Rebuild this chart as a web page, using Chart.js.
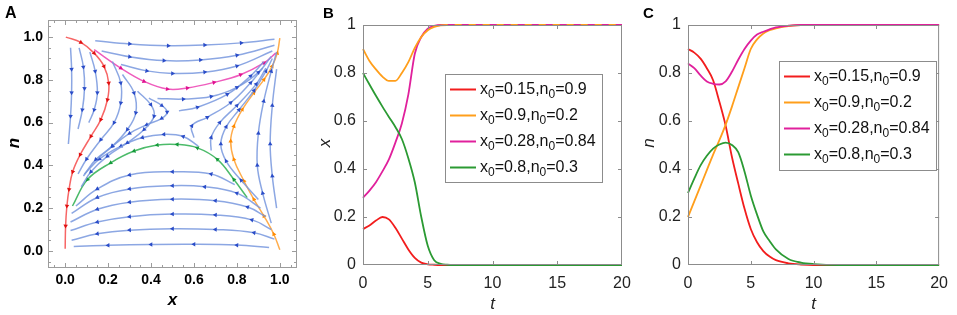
<!DOCTYPE html>
<html>
<head>
<meta charset="utf-8">
<script src="https://cdn.jsdelivr.net/npm/chart.js@4.4.1/dist/chart.umd.min.js"></script>
<style>
  body { margin: 0; background: #fff; width: 957px; height: 315px; position: relative; overflow: hidden; }
  canvas { position: absolute; top: 0; }
</style>
</head>
<body>
<canvas id="chartA" width="320" height="315" style="left:0"></canvas>
<canvas id="chartB" width="320" height="315" style="left:320px"></canvas>
<canvas id="chartC" width="317" height="315" style="left:640px"></canvas>
<script>
// ---- panel A: phase plane (x, n), streamlines ----
const phaseTicks = [0, 0.2, 0.4, 0.6, 0.8, 1.0];

// blue stream lines, listed in flow direction
const topLines = [
  [[0.14,0.983],[0.3,0.968],[0.48,0.96],[0.65,0.963],[0.82,0.973],[0.975,0.99]],
  [[0.17,0.935],[0.3,0.908],[0.46,0.89],[0.63,0.893],[0.8,0.915],[0.975,0.962]],
  [[0.26,0.872],[0.38,0.842],[0.5,0.83],[0.65,0.836],[0.8,0.865],[0.965,0.935]],
  [[0.43,0.713],[0.55,0.71],[0.68,0.722],[0.8,0.765],[0.9,0.835],[0.96,0.91]]
];
const saddleRightLines = [
  [[0.53,0.655],[0.616,0.672],[0.755,0.732],[0.864,0.818],[0.925,0.885]],
  [[0.6,0.53],[0.59,0.585],[0.662,0.625],[0.771,0.693],[0.864,0.786],[0.92,0.855]],
  [[0.68,0.47],[0.68,0.53],[0.72,0.6],[0.8,0.68],[0.89,0.78],[0.935,0.855]],
  [[0.9,0.24],[0.82,0.33],[0.75,0.42],[0.725,0.5],[0.75,0.58],[0.81,0.66],[0.88,0.75],[0.935,0.84],[0.965,0.9]],
  [[0.96,0.13],[0.92,0.27],[0.895,0.4],[0.9,0.55],[0.925,0.7],[0.96,0.84],[0.985,0.93]],
  [[0.985,0.2],[0.965,0.35],[0.955,0.5],[0.965,0.68],[0.985,0.85]]
];
const leftLines = [
  [[0.025,0.95],[0.03,0.85],[0.03,0.74],[0.025,0.63],[0.015,0.5]],
  [[0.065,0.95],[0.085,0.86],[0.09,0.76],[0.08,0.66],[0.06,0.57]],
  [[0.115,0.93],[0.14,0.84],[0.15,0.74],[0.135,0.66],[0.11,0.6]],
  [[0.22,0.886],[0.259,0.786],[0.259,0.692],[0.228,0.6],[0.166,0.52],[0.1,0.43],[0.06,0.36]],
  [[0.267,0.825],[0.321,0.739],[0.329,0.646],[0.29,0.568],[0.22,0.49],[0.143,0.428],[0.085,0.35]],
  [[0.337,0.747],[0.399,0.684],[0.414,0.63],[0.368,0.568],[0.29,0.506],[0.197,0.443],[0.12,0.37],[0.075,0.3]],
  [[0.39,0.715],[0.45,0.68],[0.475,0.65],[0.45,0.62],[0.38,0.59],[0.3,0.55],[0.22,0.49],[0.15,0.43]]
];
const bottomLines = [
  [[0.62,0.49],[0.55,0.535],[0.46,0.545],[0.36,0.53],[0.26,0.49],[0.16,0.43],[0.09,0.36]],
  [[0.79,0.31],[0.68,0.36],[0.5,0.37],[0.3,0.355],[0.15,0.29],[0.05,0.21]],
  [[0.91,0.2],[0.8,0.27],[0.65,0.3],[0.5,0.305],[0.3,0.29],[0.15,0.25],[0.03,0.175]],
  [[0.935,0.16],[0.85,0.205],[0.7,0.235],[0.5,0.242],[0.3,0.228],[0.15,0.195],[0.025,0.135]],
  [[0.96,0.1],[0.87,0.145],[0.7,0.168],[0.5,0.172],[0.3,0.16],[0.15,0.135],[0.025,0.095]],
  [[0.975,0.055],[0.88,0.085],[0.7,0.1],[0.5,0.104],[0.3,0.097],[0.15,0.08],[0.03,0.05]],
  [[0.95,0.016],[0.8,0.027],[0.6,0.031],[0.4,0.03],[0.2,0.026],[0.04,0.02]]
];

// highlighted trajectories
const redPath = [[0.003,1.0],[0.073,0.975],[0.135,0.925],[0.181,0.863],[0.203,0.785],[0.197,0.707],[0.166,0.614],[0.12,0.536],[0.07,0.45],[0.035,0.37],[0.018,0.288],[0.008,0.21],[0.002,0.117],[0,0.01]];
const magentaPath = [[0.135,0.941],[0.259,0.855],[0.367,0.793],[0.476,0.757],[0.569,0.762],[0.693,0.788],[0.817,0.824],[0.926,0.879],[0.98,0.925]];
const orangePath = [[1.0,0.005],[0.972,0.078],[0.926,0.163],[0.879,0.241],[0.833,0.327],[0.786,0.428],[0.771,0.513],[0.786,0.583],[0.825,0.661],[0.879,0.739],[0.926,0.801],[0.964,0.863],[0.988,0.925],[1.0,0.995]];
const greenPath = [[0.848,0.249],[0.786,0.334],[0.709,0.428],[0.616,0.482],[0.522,0.498],[0.429,0.495],[0.321,0.467],[0.212,0.412],[0.104,0.334],[0.034,0.21]];

// ---- panels B and C: time courses ----
const times = [0,0.5,1,1.5,2,2.5,3,3.5,4,4.5,5,5.5,6,6.5,7,8,9,10,12,14,16,18,20];

const xRed     = [0.15,0.165,0.185,0.2,0.19,0.155,0.11,0.065,0.03,0.01,0.003,0.001,0,0,0,0,0,0,0,0,0,0,0];
const xOrange  = [0.9,0.85,0.815,0.785,0.767,0.767,0.8,0.845,0.905,0.95,0.978,0.992,0.998,1,1,1,1,1,1,1,1,1,1];
const xMagenta = [0.28,0.31,0.345,0.39,0.44,0.51,0.59,0.71,0.88,0.95,0.985,0.996,1,1,1,1,1,1,1,1,1,1,1];
const xGreen   = [0.8,0.752,0.705,0.66,0.617,0.575,0.525,0.445,0.345,0.2,0.08,0.02,0.005,0.001,0,0,0,0,0,0,0,0,0];

const nRed     = [0.9,0.885,0.86,0.82,0.77,0.68,0.58,0.45,0.34,0.235,0.15,0.095,0.058,0.035,0.02,0.007,0.002,0,0,0,0,0,0];
const nOrange  = [0.2,0.265,0.33,0.395,0.46,0.52,0.585,0.66,0.74,0.82,0.9,0.94,0.965,0.978,0.986,0.995,1,1,1,1,1,1,1];
const nMagenta = [0.84,0.82,0.79,0.765,0.755,0.752,0.765,0.805,0.855,0.9,0.935,0.96,0.972,0.982,0.99,0.997,1,1,1,1,1,1,1];
const nGreen   = [0.3,0.36,0.415,0.455,0.485,0.502,0.51,0.5,0.47,0.39,0.29,0.21,0.14,0.1,0.065,0.025,0.01,0.004,0,0,0,0,0];

const x0Values = ['0.15', '0.9', '0.28', '0.8'];
const n0Values = ['0.9', '0.2', '0.84', '0.3'];
const seriesColors = ['#f21d1d', '#ff9e1b', '#e0209c', '#2b9a33'];

Chart.defaults.font.family = '"Liberation Sans", Arial, sans-serif';

// ---------- panel A ----------
function arrowAngle(ctx) {
  const d = ctx.dataset.data, i = ctx.dataIndex, ch = ctx.chart;
  const a = d[Math.max(i - 1, 0)], b = d[Math.min(i + 1, d.length - 1)];
  const dx = ch.scales.x.getPixelForValue(b.x) - ch.scales.x.getPixelForValue(a.x);
  const dy = ch.scales.y.getPixelForValue(b.y) - ch.scales.y.getPixelForValue(a.y);
  return Math.atan2(dx, -dy) * 180 / Math.PI;
}

function streamSet(line, lineColor, headColor) {
  return {
    data: line.map(p => ({ x: p[0], y: p[1] })),
    showLine: true,
    borderColor: lineColor,
    borderWidth: 1.5,
    tension: 0.4,
    pointStyle: 'triangle',
    pointBackgroundColor: headColor,
    pointBorderColor: headColor,
    pointBorderWidth: 0,
    pointRadius: ctx => (ctx.dataIndex === 0 || ctx.dataIndex === ctx.dataset.data.length - 1) ? 0 : 2.6,
    pointRotation: arrowAngle
  };
}

const blue = 'rgba(120,152,222,0.85)', blueHead = '#2a4cc8';
const phaseSets = [];
[topLines, saddleRightLines, leftLines, bottomLines].forEach(group =>
  group.forEach(l => phaseSets.push(streamSet(l, blue, blueHead))));
phaseSets.push(streamSet(redPath, '#f76666', '#e01010'));
phaseSets.push(streamSet(magentaPath, '#ef5cbd', '#e0108f'));
phaseSets.push(streamSet(orangePath, '#ffad4d', '#ff8a00'));
phaseSets.push(streamSet(greenPath, '#4cbb6a', '#149a3a'));

const frameA = {
  id: 'frameA',
  afterDraw(chart) {
    const c = chart.ctx, a = chart.chartArea, sx = chart.scales.x, sy = chart.scales.y;
    c.save();
    c.strokeStyle = '#9c9c9c';
    c.lineWidth = 1;
    c.strokeRect(a.left + 0.5, a.top + 0.5, a.right - a.left - 1, a.bottom - a.top - 1);
    c.beginPath();
    for (let k = -1; k <= 21; k++) {
      const v = k * 0.05, L = k % 4 === 0 ? 5 : 3;
      const px = Math.round(sx.getPixelForValue(v)) + 0.5;
      const py = Math.round(sy.getPixelForValue(v)) + 0.5;
      c.moveTo(px, a.bottom); c.lineTo(px, a.bottom - L);
      c.moveTo(px, a.top); c.lineTo(px, a.top + L);
      c.moveTo(a.left, py); c.lineTo(a.left + L, py);
      c.moveTo(a.right, py); c.lineTo(a.right - L, py);
    }
    c.stroke();
    c.fillStyle = '#000';
    c.font = 'bold 16px "Liberation Sans"';
    c.textAlign = 'left'; c.textBaseline = 'top';
    c.fillText('A', 5, 6);
    c.font = 'italic bold 17px "Liberation Sans"';
    c.textAlign = 'center'; c.textBaseline = 'middle';
    c.fillText('x', (a.left + a.right) / 2, 300);
    c.translate(14, 143);
    c.rotate(-Math.PI / 2);
    c.fillText('n', 0, 0);
    c.restore();
  }
};

new Chart(document.getElementById('chartA'), {
  type: 'scatter',
  data: { datasets: phaseSets },
  options: {
    responsive: false,
    animation: false,
    layout: { padding: { left: 0, right: 23, top: 20, bottom: 0 } },
    plugins: { legend: { display: false }, tooltip: { enabled: false } },
    scales: {
      x: {
        type: 'linear', min: -0.08, max: 1.08,
        afterBuildTicks: s => { s.ticks = phaseTicks.map(v => ({ value: v })); },
        afterFit: s => { s.height = 47; },
        grid: { display: false, drawTicks: false },
        border: { display: false },
        ticks: { padding: 4, color: '#000', font: { size: 14, weight: 'bold' }, callback: v => v.toFixed(1) }
      },
      y: {
        type: 'linear', min: -0.08, max: 1.08,
        afterBuildTicks: s => { s.ticks = phaseTicks.map(v => ({ value: v })); },
        afterFit: s => { s.width = 48; },
        grid: { display: false, drawTicks: false },
        border: { display: false },
        ticks: { padding: 5, color: '#000', font: { size: 14, weight: 'bold' }, callback: v => v.toFixed(1) }
      }
    }
  },
  plugins: [frameA]
});

// ---------- panels B and C ----------
function boxPlugin(letter, yTitle, legendBox) {
  return {
    id: 'box' + letter,
    afterDraw(chart) {
      const c = chart.ctx, a = chart.chartArea, sx = chart.scales.x, sy = chart.scales.y;
      c.save();
      c.strokeStyle = '#8c8c8c';
      c.lineWidth = 1;
      c.strokeRect(a.left + 0.5, a.top + 0.5, a.right - a.left - 1, a.bottom - a.top - 1);
      c.beginPath();
      [5, 10, 15].forEach(v => {
        const px = Math.round(sx.getPixelForValue(v)) + 0.5;
        c.moveTo(px, a.bottom); c.lineTo(px, a.bottom - 4);
        c.moveTo(px, a.top); c.lineTo(px, a.top + 4);
      });
      [0.2, 0.4, 0.6, 0.8].forEach(v => {
        const py = Math.round(sy.getPixelForValue(v)) + 0.5;
        c.moveTo(a.left, py); c.lineTo(a.left + 4, py);
        c.moveTo(a.right, py); c.lineTo(a.right - 4, py);
      });
      c.stroke();

      // legend with subscripts
      const b = legendBox;
      c.fillStyle = '#fff';
      c.fillRect(b.x, b.y, b.w, b.h);
      c.strokeStyle = '#8c8c8c';
      c.strokeRect(b.x + 0.5, b.y + 0.5, b.w, b.h);
      x0Values.forEach((x0, k) => {
        const y = b.y + 15.5 + k * 26;
        c.strokeStyle = seriesColors[k];
        c.lineWidth = 2;
        c.beginPath(); c.moveTo(b.x + 5, y); c.lineTo(b.x + 31, y); c.stroke();
        const parts = [['x', 0], ['0', 1], ['=' + x0 + ',n', 0], ['0', 1], ['=' + n0Values[k], 0]];
        let tx = b.x + 35;
        c.fillStyle = '#111';
        c.textAlign = 'left'; c.textBaseline = 'alphabetic';
        parts.forEach(([s, sub]) => {
          c.font = sub ? '12px "Liberation Sans"' : '16px "Liberation Sans"';
          c.fillText(s, tx, y + (sub ? 8.5 : 4.5));
          tx += c.measureText(s).width;
        });
      });

      c.fillStyle = '#000';
      c.font = 'bold 15px "Liberation Sans"';
      c.textAlign = 'left'; c.textBaseline = 'top';
      c.fillText(letter, 3, 6);
      c.fillStyle = '#222';
      c.font = 'italic 17px "Liberation Sans"';
      c.textAlign = 'center'; c.textBaseline = 'middle';
      c.fillText('t', (a.left + a.right) / 2, 304);
      c.translate(letter === 'B' ? 5 : 9, 143);
      c.rotate(-Math.PI / 2);
      c.fillText(yTitle, 0, 0);
      c.restore();
    }
  };
}

function timeChart(id, values, orders, dashOrange, letter, yTitle, legendBox, yWidth, rightPad) {
  return new Chart(document.getElementById(id), {
    type: 'line',
    data: {
      labels: times,
      datasets: values.map((v, k) => ({
        data: v,
        borderColor: seriesColors[k],
        borderWidth: 1.8,
        pointRadius: 0,
        cubicInterpolationMode: 'monotone',
        clip: false,
        order: orders[k],
        segment: (dashOrange && k === 1) ? { borderDash: ctx => ctx.p0.parsed.x >= 6 ? [7, 7] : undefined } : undefined
      }))
    },
    options: {
      responsive: false,
      animation: false,
      layout: { padding: { left: 0, right: rightPad, top: 25, bottom: 0 } },
      plugins: { legend: { display: false }, tooltip: { enabled: false } },
      scales: {
        x: {
          type: 'linear', min: 0, max: 20,
          afterFit: s => { s.height = 50; },
          grid: { display: false, drawTicks: false },
          border: { display: false },
          ticks: { stepSize: 5, padding: 9, color: '#222', font: { size: 16 } }
        },
        y: {
          type: 'linear', min: 0, max: 1,
          afterFit: s => { s.width = yWidth; },
          grid: { display: false, drawTicks: false },
          border: { display: false },
          ticks: {
            stepSize: 0.2, padding: 7, color: '#222', font: { size: 16 },
            callback: v => (v === 0 || v === 1) ? String(v) : v.toFixed(1)
          }
        }
      }
    },
    plugins: [boxPlugin(letter, yTitle, legendBox)]
  });
}

timeChart('chartB', [xRed, xOrange, xMagenta, xGreen], [3, 1, 2, 0], true,
  'B', 'x', { x: 125, y: 74, w: 157, h: 108 }, 43, 18);
timeChart('chartC', [nRed, nOrange, nMagenta, nGreen], [3, 2, 1, 0], false,
  'C', 'n', { x: 139, y: 61, w: 157, h: 109 }, 48, 11);
</script>
</body>
</html>
